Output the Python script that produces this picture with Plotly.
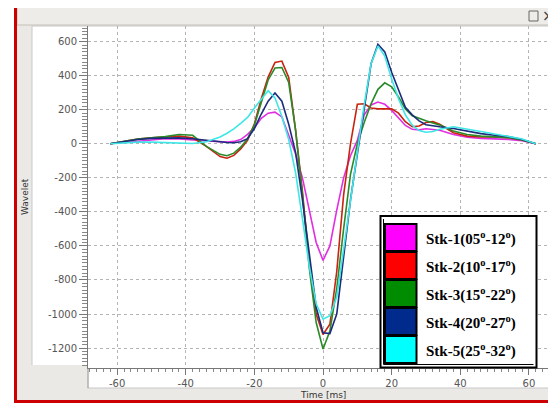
import plotly.graph_objects as go

# wavelet samples (ms) and amplitudes
time_ms = [-62, -58, -54, -50, -46, -42, -38, -34,
           -30, -28, -26, -24, -22, -20, -18, -16, -14, -12, -10, -8, -6, -4, -2,
           0,
           2, 4, 6, 8, 10, 12, 14, 16, 18, 20, 22, 24, 26, 28, 30, 32, 34,
           38, 42, 46, 50, 54, 58, 62]

stk1 = [0, 8, 18, 26, 30, 28, 22, 15,
        10, 10, 14, 25, 55, 95, 150, 180, 186, 158, 50, -60, -200, -380, -580,
        -685,
        -600, -390, -200, -70, 20, 170, 228, 245, 232, 196, 150, 108, 85, 82, 88, 86, 80,
        55, 38, 32, 30, 26, 18, 0]

stk2 = [0, 15, 28, 35, 40, 45, 35, -15,
        -75, -85, -68, -30, 20, 118, 265, 392, 478, 486, 390, 80, -280, -700, -1000,
        -1120,
        -1060, -750, -300, 0, 232, 235, 210, 205, 205, 205, 180, 130, 100, 105, 125, 130, 115,
        65, 45, 40, 40, 36, 22, 0]

stk3 = [0, 15, 28, 35, 42, 55, 50, -15,
        -62, -70, -55, -20, 30, 110, 250, 375, 445, 448, 360, 80, -300, -730, -1050,
        -1205,
        -1100, -850, -500, -180, 0, 125, 235, 320, 358, 335, 275, 205, 165, 148, 135, 122, 110,
        75, 55, 45, 40, 36, 22, 0]

stk4 = [0, 12, 25, 32, 35, 35, 30, 20,
        12, 8, 6, 12, 30, 90, 175, 250, 298, 250, 115, -50, -330, -650, -960,
        -1110,
        -1115, -1000, -650, -330, -60, 196, 470, 585, 540, 420, 320, 215, 170, 135, 112, 105, 100,
        90, 75, 60, 50, 42, 25, 0]

stk5 = [0, 6, 10, 10, 6, 2, 2, 12,
        40, 62, 88, 120, 155, 210, 262, 312, 270, 160, 25, -170, -440, -720, -940,
        -1030,
        -1010, -900, -620, -320, -50, 230, 470, 575, 515, 380, 265, 170, 110, 78, 68, 72, 85,
        100, 88, 72, 58, 45, 28, 0]

series_names = ["Stk-1(05<sup>o</sup>-12<sup>o</sup>)",
                "Stk-2(10<sup>o</sup>-17<sup>o</sup>)",
                "Stk-3(15<sup>o</sup>-22<sup>o</sup>)",
                "Stk-4(20<sup>o</sup>-27<sup>o</sup>)",
                "Stk-5(25<sup>o</sup>-32<sup>o</sup>)"]

x_tickvals = [-60, -40, -20, 0, 20, 40, 60]
x_ticktext = ["-60", "-40", "-20", "0", "20", "40", "60"]
y_tickvals = [-1200, -1000, -800, -600, -400, -200, 0, 200, 400, 600]
y_ticktext = ["-1200", "-1000", "-800", "-600", "-400", "-200", "0", "200", "400", "600"]

line_colors = ["#e22ee2", "#c8230f", "#2a8a2a", "#1c2c7c", "#3ee6e6"]
swatch_colors = ["#ff00ff", "#ff0000", "#008c00", "#002a8c", "#00ffff"]

# the page body has an 8px margin, so the figure starts at (8, 8) in the window
OFF = 8
W, H = 556 - OFF, 405 - OFF
L, R, T, B = 88 - OFF, 0, 26 - OFF, 37
PW, PH = W - L - R, H - T - B


def px(p):
    # window pixel column -> paper x
    return (p - OFF - L) / PW


def py(p):
    # window pixel row -> paper y
    return (H - B - (p - OFF)) / PH


fig = go.Figure()

for vals, name, col in zip([stk1, stk2, stk3, stk4, stk5], series_names, line_colors):
    fig.add_trace(go.Scatter(x=time_ms, y=vals, mode="lines", name=name,
                             line=dict(color=col, width=1.6), showlegend=False))

# window frame / panels (screenshot of a GUI plot widget)
shapes = [
    dict(type="rect", xref="paper", yref="paper", layer="below",
         x0=px(17), x1=px(560), y0=py(400), y1=py(7),
         fillcolor="#ebe9e5", line=dict(width=0)),
    dict(type="rect", xref="paper", yref="paper", layer="below",
         x0=px(17), x1=px(560), y0=py(25), y1=py(7),
         fillcolor="#eeece8", line=dict(color="#c4c0b8", width=1)),
    dict(type="rect", xref="paper", yref="paper", layer="below",
         x0=px(32), x1=px(560), y0=py(388), y1=py(26),
         fillcolor="white", line=dict(color="#c8c8c8", width=1)),
    dict(type="rect", xref="paper", yref="paper", layer="below",
         x0=px(31), x1=px(87.5), y0=py(389), y1=py(365),
         fillcolor="#ebe9e5", line=dict(width=0)),
    dict(type="line", xref="paper", yref="paper",
         x0=px(88), x1=px(88), y0=py(368), y1=py(388),
         line=dict(color="#888888", width=1)),
    dict(type="rect", xref="paper", yref="paper",
         x0=px(15.5), x1=px(562), y0=py(401.5), y1=py(5.5),
         fillcolor="rgba(0,0,0,0)", line=dict(color="#cc0000", width=3)),
    # little maximise box in the title bar
    dict(type="rect", xref="paper", yref="paper",
         x0=px(529), x1=px(538), y0=py(21), y1=py(11),
         fillcolor="rgba(0,0,0,0)", line=dict(color="#666666", width=1)),
]

# legend box drawn by hand to get the big colour swatches
shapes.append(dict(type="rect", xref="paper", yref="paper",
                   x0=px(380.5), x1=px(536.5), y0=py(367.5), y1=py(216),
                   fillcolor="white", line=dict(color="black", width=2)))
shapes.append(dict(type="path", xref="paper", yref="paper",
                   path=f"M {px(383.5)},{py(219)} L {px(383.5)},{py(364.5)} L {px(533.5)},{py(364.5)}",
                   line=dict(color="black", width=1)))
annotations = []
for i, (name, col) in enumerate(zip(series_names, swatch_colors)):
    top = 224 + 28 * i
    shapes.append(dict(type="rect", xref="paper", yref="paper",
                       x0=px(385), x1=px(416.5), y0=py(top + 27), y1=py(top),
                       fillcolor=col, line=dict(color="black", width=2)))
    annotations.append(dict(xref="paper", yref="paper", x=px(424), y=py(top + 14.5),
                            text=f"<b>{name}</b>", showarrow=False,
                            xanchor="left", yanchor="middle",
                            font=dict(family="Liberation Serif", size=15, color="black")))

annotations += [
    dict(xref="paper", yref="paper", x=px(25), y=py(197), text="Wavelet",
         textangle=-90, showarrow=False, xanchor="center", yanchor="middle",
         font=dict(family="DejaVu Sans", size=9, color="#333333")),
    dict(xref="paper", yref="paper", x=px(323), y=py(394.5), text="Time [ms]",
         showarrow=False, xanchor="center", yanchor="middle",
         font=dict(family="DejaVu Sans", size=9, color="#333333")),
    dict(xref="paper", yref="paper", x=px(548), y=py(16), text="×",
         showarrow=False, xanchor="center", yanchor="middle",
         font=dict(family="DejaVu Sans", size=15, color="#444444")),
]

tick_font = dict(family="DejaVu Sans", size=10, color="#555555")

fig.update_layout(
    width=W, height=H,
    margin=dict(l=L, r=R, t=T, b=B),
    paper_bgcolor="white",
    plot_bgcolor="white",
    showlegend=False,
    shapes=shapes,
    annotations=annotations,
    xaxis=dict(range=[-68.5, 67.9], tickvals=x_tickvals, ticktext=x_ticktext,
               ticks="outside", ticklen=6, tickcolor="#777777", tickfont=tick_font,
               showline=True, linecolor="#777777", linewidth=1,
               showgrid=True, gridcolor="#b4b4b4", griddash="dot", gridwidth=1,
               zeroline=False,
               minor=dict(dtick=2, ticks="outside", ticklen=3, tickcolor="#888888",
                          showgrid=False)),
    yaxis=dict(range=[-1317, 692], tickvals=y_tickvals, ticktext=y_ticktext,
               ticks="outside", ticklen=8, tickcolor="#777777", tickfont=tick_font,
               showline=True, linecolor="#777777", linewidth=1,
               showgrid=True, gridcolor="#b4b4b4", griddash="dot", gridwidth=1,
               zeroline=False,
               minor=dict(dtick=20, ticks="outside", ticklen=5, tickcolor="#888888",
                          showgrid=False)),
)

fig.write_html("out.html")
